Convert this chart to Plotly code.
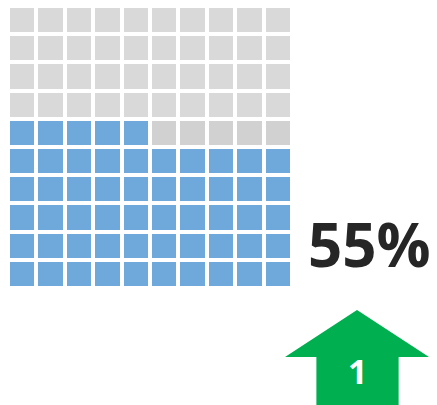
import plotly.graph_objects as go

# ---- data ----
grid_rows = 10
grid_cols = 10
value_pct = 55
change_value = 1
pct_label = f"{value_pct}%"

# cell states: 0 = empty, 1 = empty cell in partially filled row, 2 = filled
cell_states = []
for r in range(grid_rows):
    row = []
    for c in range(grid_cols):
        k = r * grid_cols + c
        if k < value_pct:
            row.append(2)
        elif r == value_pct // grid_cols:
            row.append(1)
        else:
            row.append(0)
    cell_states.append(row)

# unit arrow outline (local arrow coordinates)
arrow_x = [0.5, 1.0, 0.789, 0.789, 0.218, 0.218, 0.0, 0.5]
arrow_y = [1.0, 0.505, 0.505, -0.2, -0.2, 0.505, 0.505, 1.0]

OFF = 8  # page body margin offset
VW, VH = 437, 405
W, H = VW - OFF, VH - OFF
GRAY = "#D9D9D9"
GRAY2 = "#D0D1D0"
BLUE = "#6FA9DC"
GREEN = "#00B050"


def px(x):
    return max(0.0, min(1.0, (x - OFF) / W))


def py(y):
    return max(0.0, min(1.0, (H - (y - OFF)) / H))


# vertical grid: bricks from viewport y=8 (top) to 286 (bottom)
pitch_y = (288 - 8) / 9.93
y_top = 9.5 - 2 / pitch_y

fig = go.Figure()
fig.add_trace(go.Heatmap(
    z=cell_states,
    x=list(range(grid_cols)),
    y=list(range(grid_rows)),
    xgap=4, ygap=4,
    zmin=0, zmax=2,
    colorscale=[[0, GRAY], [0.33, GRAY], [0.33, GRAY2], [0.66, GRAY2],
                [0.66, BLUE], [1, BLUE]],
    showscale=False,
    hoverinfo="skip",
))

fig.add_trace(go.Scatter(
    x=arrow_x, y=arrow_y, mode="lines", fill="toself",
    fillcolor=GREEN, line=dict(width=0, color=GREEN),
    xaxis="x2", yaxis="y2", hoverinfo="skip", showlegend=False,
))

fig.add_annotation(
    text=str(change_value), x=0.5,
    y=(405 - 370.5) / (405 - 310), xref="x2", yref="y2",
    showarrow=False, xanchor="center", yanchor="middle",
    font=dict(family="Open Sans", size=34, color="white", weight="bold"),
)

fig.add_annotation(
    text=pct_label, x=px(369), y=py(244), xref="paper", yref="paper",
    showarrow=False, xanchor="center", yanchor="middle",
    font=dict(family="Open Sans", size=60, color="#262626", weight="bold"),
)

fig.update_layout(
    width=W, height=H,
    margin=dict(l=0, r=0, t=0, b=0),
    paper_bgcolor="white", plot_bgcolor="white",
    showlegend=False,
    xaxis=dict(domain=[px(8), px(292)], range=[-0.5, 9.5], visible=False, fixedrange=True),
    yaxis=dict(domain=[py(288), 1.0], range=[-0.5, y_top], visible=False, fixedrange=True),
    xaxis2=dict(domain=[px(285), px(429)], range=[0, 1], visible=False, anchor="y2", fixedrange=True),
    yaxis2=dict(domain=[0.0, py(310)], range=[0, 1], visible=False, anchor="x2", fixedrange=True),
)

fig.write_html("out.html", config={"displayModeBar": False})
